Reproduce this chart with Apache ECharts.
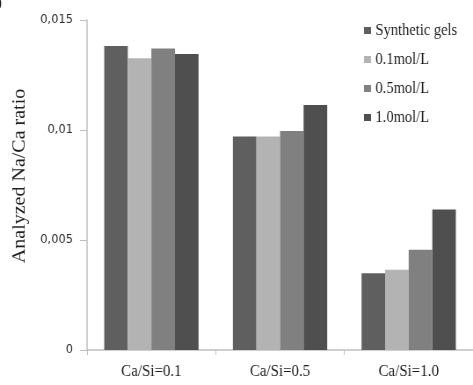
<!DOCTYPE html>
<html>
<head>
<meta charset="utf-8">
<script src="https://cdn.jsdelivr.net/npm/echarts@6/dist/echarts.min.js"></script>
<style>
  html, body { margin: 0; padding: 0; background: #fff; overflow: hidden; }
  /* The figure is laid out at a wider size and narrowed horizontally,
     giving the condensed look of the exported chart. */
  #chart { width: 538px; height: 385px; transform: scaleX(0.8792); transform-origin: 0 0; }
</style>
</head>
<body>
<div id="chart"></div>
<script>
// Ca/Si ratio groups
const categories = ['Ca/Si=0.1', 'Ca/Si=0.5', 'Ca/Si=1.0'];
// Analyzed Na/Ca ratio per treatment
const seriesNames = ['Synthetic gels', '0.1mol/L', '0.5mol/L', '1.0mol/L'];
const syntheticGels = [0.01382, 0.00971, 0.00349];
const naoh01 = [0.01326, 0.00970, 0.00365];
const naoh05 = [0.01370, 0.00996, 0.00456];
const naoh10 = [0.01346, 0.01114, 0.00639];
const yTicks = { min: 0, max: 0.015, interval: 0.005 };
const yTitle = 'Analyzed Na/Ca ratio';

const values = [syntheticGels, naoh01, naoh05, naoh10];
const colors = ['#5f5f5f', '#b3b3b3', '#808080', '#4f4f4f'];
const serif = 'Liberation Serif';

const chart = echarts.init(document.getElementById('chart'));
chart.setOption({
  animation: false,
  color: colors,
  grid: { left: 99, right: -8, top: 20, bottom: 35 },
  legend: {
    orient: 'vertical',
    left: 409,
    top: 17,
    itemWidth: 8,
    itemHeight: 7,
    itemGap: 12,
    icon: 'rect',
    textStyle: { fontFamily: serif, fontSize: 16.5, color: '#1e1e1e' },
    data: seriesNames
  },
  xAxis: {
    type: 'category',
    data: categories,
    axisLine: { lineStyle: { color: '#c0c0c0', width: 1.5 } },
    axisTick: { show: true, length: 5, lineStyle: { color: '#c0c0c0' } },
    axisLabel: { fontFamily: serif, fontSize: 17, color: '#1e1e1e', margin: 13 }
  },
  yAxis: {
    type: 'value',
    min: yTicks.min,
    max: yTicks.max,
    interval: yTicks.interval,
    axisLine: { show: true, lineStyle: { color: '#c0c0c0', width: 1.5 } },
    axisTick: { show: true, length: 8, lineStyle: { color: '#c0c0c0' } },
    splitLine: { show: false },
    axisLabel: {
      fontFamily: 'DejaVu Sans',
      fontSize: 13,
      color: '#2a2a2a',
      margin: 16,
      formatter: v => (v === 0 ? '0' : String(+v.toFixed(3)).replace('.', ','))
    }
  },
  series: seriesNames.map((name, i) => ({
    name,
    type: 'bar',
    data: values[i],
    barGap: '0%',
    barCategoryGap: '26.7%',
    itemStyle: { color: colors[i] }
  })),
  graphic: [
    {
      type: 'text',
      x: 23,
      y: 176,
      rotation: Math.PI / 2,
      style: {
        text: yTitle,
        font: '20px ' + serif,
        fill: '#1e1e1e',
        align: 'center',
        verticalAlign: 'middle'
      }
    },
    {
      type: 'text',
      x: -3,
      y: -4,
      style: { text: ')', font: '15px ' + serif, fill: '#1e1e1e' }
    }
  ]
});
</script>
</body>
</html>
